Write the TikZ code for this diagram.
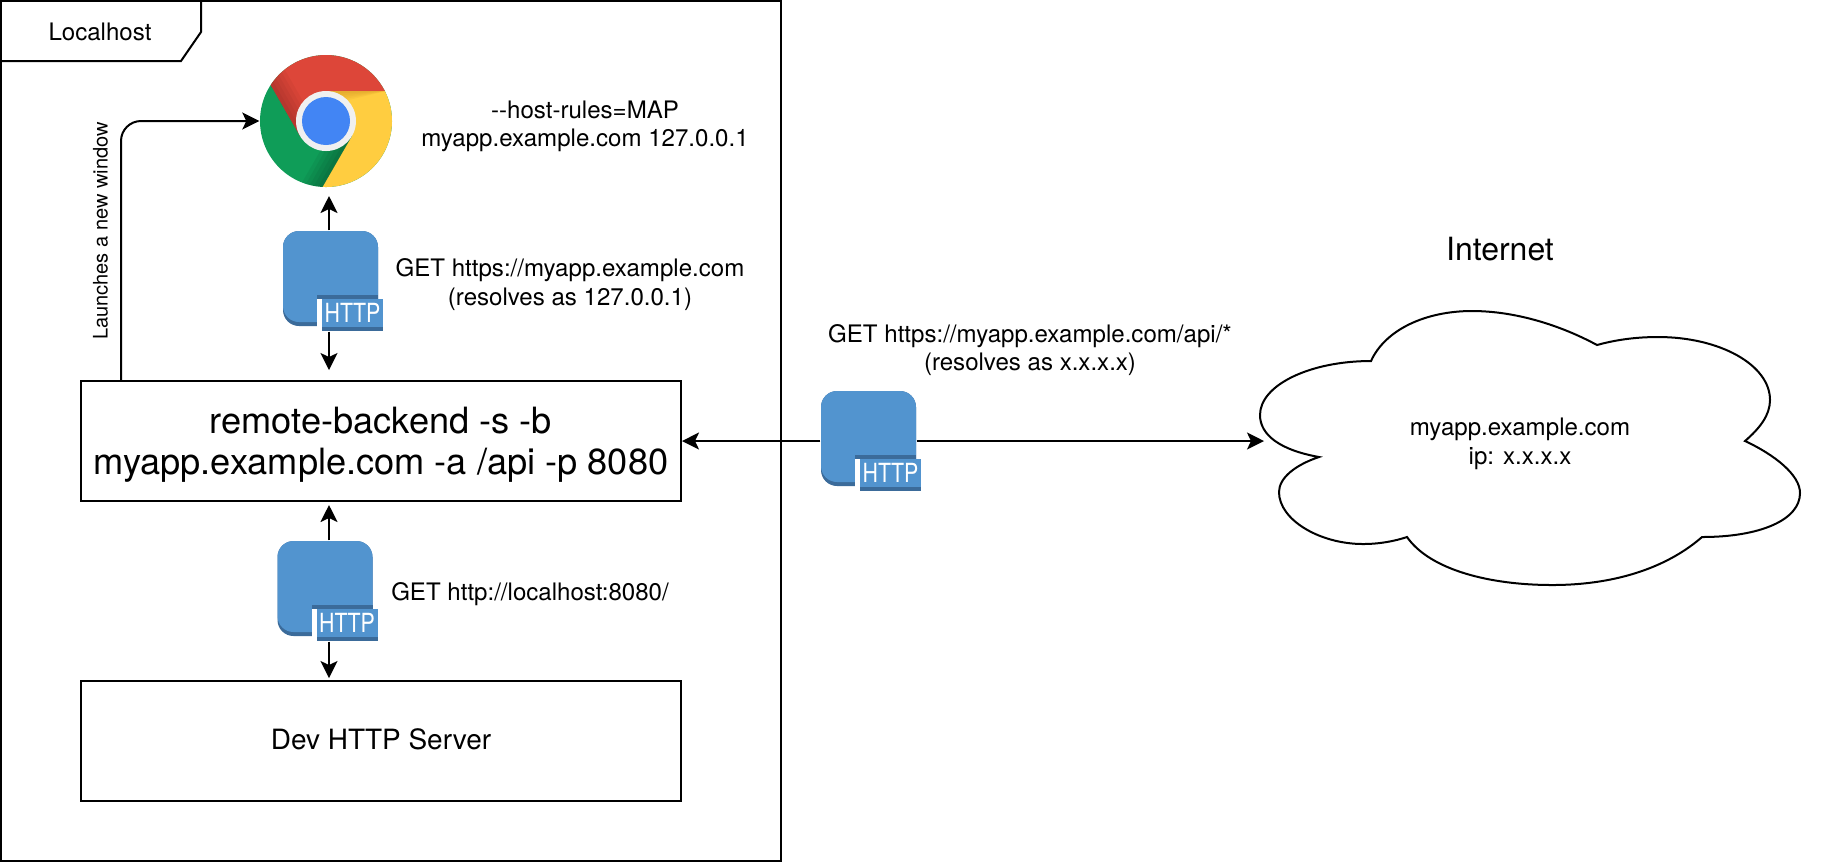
\documentclass[tikz,border=0pt]{standalone}
\usepackage{fontspec}
\setmainfont{TeX Gyre Heros}
\usetikzlibrary{arrows.meta}

\definecolor{iconblue}{HTML}{5294CF}
\definecolor{icondark}{HTML}{3B6B9A}
\definecolor{chromered}{HTML}{DD4639}
\definecolor{chromegreen}{HTML}{0F9D58}
\definecolor{chromeyellow}{HTML}{FFCD40}
\definecolor{chromeblue}{HTML}{4285F4}

\tikzset{
	line/.style={line width=0.02cm},
	arr/.style={line, -{Stealth[length=0.17cm,width=0.17cm,inset=0.04cm]}},
	box/.style={line, draw, inner sep=0pt, minimum width=6cm, minimum height=1.2cm},
	small/.style={inner sep=0pt, align=center, font=\fontsize{6.85}{8.1}\selectfont},
	httpicon/.pic={
		\fill[icondark, rounded corners=0.16cm] (-0.475,-0.475) rectangle (0.475,0.475);
		\node[fill=iconblue, rounded corners=0.16cm, inner sep=0pt, minimum width=0.95cm, minimum height=0.91cm] (body) at (0,0.02) {};
		\fill[white] (-0.135,-0.165) rectangle (-0.085,-0.525);
		\node[fill=iconblue, text=white, inner sep=0pt, minimum width=0.61cm, minimum height=0.32cm, text height=0.23cm, text depth=0.09cm, font=\fontsize{7.5}{9}\selectfont] (badge) at (0.22,-0.365) {\scalebox{0.81}[1]{HTTP}};
		\fill[icondark] (-0.135,-0.165) rectangle (0.475,-0.205);
		\fill[icondark] (-0.085,-0.485) rectangle (0.525,-0.525);
	}
}

\begin{document}
\begin{tikzpicture}
	\useasboundingbox (0,0) rectangle (18.22,-8.62);

	% Localhost frame and tab
	\node[line, draw, inner sep=0pt, minimum width=7.8cm, minimum height=8.6cm] (frame) at (3.91,-4.31) {};
	\draw[line] (0.01,-0.61) -- (1.81,-0.61) -- (2.01,-0.32) -- (2.01,-0.01);
	\node[small] (localhost) at (1.0,-0.32) {Localhost};

	% Chrome logo
	\node[circle, fill=chromegreen, inner sep=0pt, minimum size=1.32cm] (chrome) at (3.26,-1.21) {};
	\begin{scope}[shift={(3.26,-1.21)}]
		\clip (0,0) circle (0.66);
		\fill[chromered] (-0.26,-0.15) -- (-0.64,0.51) -- (-0.64,0.81) -- (0.74,0.81) -- (0.74,0.3) -- (0,0.3) -- (0,0) -- cycle;
		\fill[chromeyellow] (0,0.3) -- (0.74,0.3) -- (0.74,-0.8) -- (-0.115,-0.8) -- (0.26,-0.15) -- (0,0) -- cycle;
		\foreach \w in {0.04,0.08,...,0.24} {
			\fill[black, opacity=0.035, rotate=30] (-0.3,0) rectangle (-0.3+\w,0.66);
			\fill[black, opacity=0.05, rotate=-30] (0.3,0) rectangle (0.3-\w,-0.66);
			\fill[black!40!orange, opacity=0.05] (0,0.3) -- (0.6,0.3) -- (0.1,0.3-0.6*\w) -- (0,0.3-0.6*\w) -- cycle;
		}
		\fill[white!94!black] (0,0) circle (0.3);
		\fill[chromeblue] (0,0) circle (0.24);
	\end{scope}
	\node[small] (hostrules) at (5.85,-1.265) {-{}-host-rules=MAP\\myapp.example.com 127.0.0.1};

	% boxes
	\node[box] (remote) at (3.81,-4.41) {};
	\node[inner sep=0pt, align=center, font=\fontsize{10.3}{11.7}\selectfont] (remotetext) at (3.81,-4.445) {remote-backend -s -b\\myapp.example.com -a /api -p 8080};
	\node[box] (devserver) at (3.81,-7.41) {};
	\node[inner sep=0pt, font=\fontsize{7.95}{9.5}\selectfont] (devtext) at (3.81,-7.39) {Dev HTTP Server};

	% http icons
	\pic (httpA-) at (3.305,-2.785) {httpicon};
	\pic (httpB-) at (3.25,-5.885) {httpicon};
	\pic (httpC-) at (8.685,-4.385) {httpicon};
	\node[small] (getA) at (5.7,-2.845) {GET https://myapp.example.com\\(resolves as 127.0.0.1)};
	\node[small] (getB) at (5.3,-5.945) {GET http://localhost:8080/};
	\node[small] (getC) at (10.3,-3.5) {GET https://myapp.example.com/api/*\\(resolves as x.x.x.x)};

	% cloud
	\draw[line] (13.19,-4.57) .. controls (12.8,-4.5) and (12.6,-4.35) .. (12.6,-4.15)
		.. controls (12.6,-3.85) and (13.1,-3.61) .. (13.71,-3.61)
		.. controls (13.85,-3.3) and (14.25,-3.11) .. (14.72,-3.11)
		.. controls (15.15,-3.11) and (15.6,-3.25) .. (15.97,-3.45)
		.. controls (16.15,-3.4) and (16.35,-3.37) .. (16.58,-3.37)
		.. controls (17.2,-3.37) and (17.7,-3.65) .. (17.7,-4.0)
		.. controls (17.7,-4.15) and (17.6,-4.28) .. (17.45,-4.41)
		.. controls (17.75,-4.55) and (18.0,-4.75) .. (18.0,-4.93)
		.. controls (18.0,-5.2) and (17.6,-5.37) .. (17.02,-5.37)
		.. controls (16.7,-5.65) and (16.2,-5.85) .. (15.52,-5.85)
		.. controls (14.9,-5.85) and (14.3,-5.7) .. (14.07,-5.37)
		.. controls (13.95,-5.41) and (13.8,-5.44) .. (13.63,-5.44)
		.. controls (13.2,-5.44) and (12.79,-5.2) .. (12.79,-4.92)
		.. controls (12.79,-4.78) and (12.95,-4.65) .. (13.19,-4.57) -- cycle;
	\node[small] (cloudtext) at (15.2,-4.44) {myapp.example.com\\ip: x.x.x.x};
	\node[inner sep=0pt, font=\fontsize{9.1}{11}\selectfont] (internet) at (15.0,-2.49) {Internet};
	\coordinate (cloudtip) at (12.64,-4.41);

	% arrow ends
	\coordinate (launch) at (1.21,-1.21);
	\coordinate (tipA) at (3.29,-1.96);
	\coordinate (tipB) at (3.29,-3.7);
	\coordinate (tipC) at (3.29,-5.05);
	\coordinate (tipD) at (3.29,-6.78);

	% connectors
	\draw[arr, rounded corners=0.2cm] (launch |- remote.north) -- (launch) -- (chrome.west);
	\node[inner sep=0pt, rotate=90, font=\fontsize{5.7}{7}\selectfont] (launchtext) at (1.005,-2.31) {Launches a new window};
	\draw[arr] (httpA-body.north -| tipA) -- (tipA);
	\draw[arr] (httpA-badge.south -| tipB) -- (tipB);
	\draw[arr] (httpB-body.north -| tipC) -- (tipC);
	\draw[arr] (httpB-badge.south -| tipD) -- (tipD);
	\draw[arr] (httpC-body.west |- remote.east) -- (remote.east);
	\draw[arr] (httpC-body.east |- cloudtip) -- (cloudtip);
\end{tikzpicture}
\end{document}
